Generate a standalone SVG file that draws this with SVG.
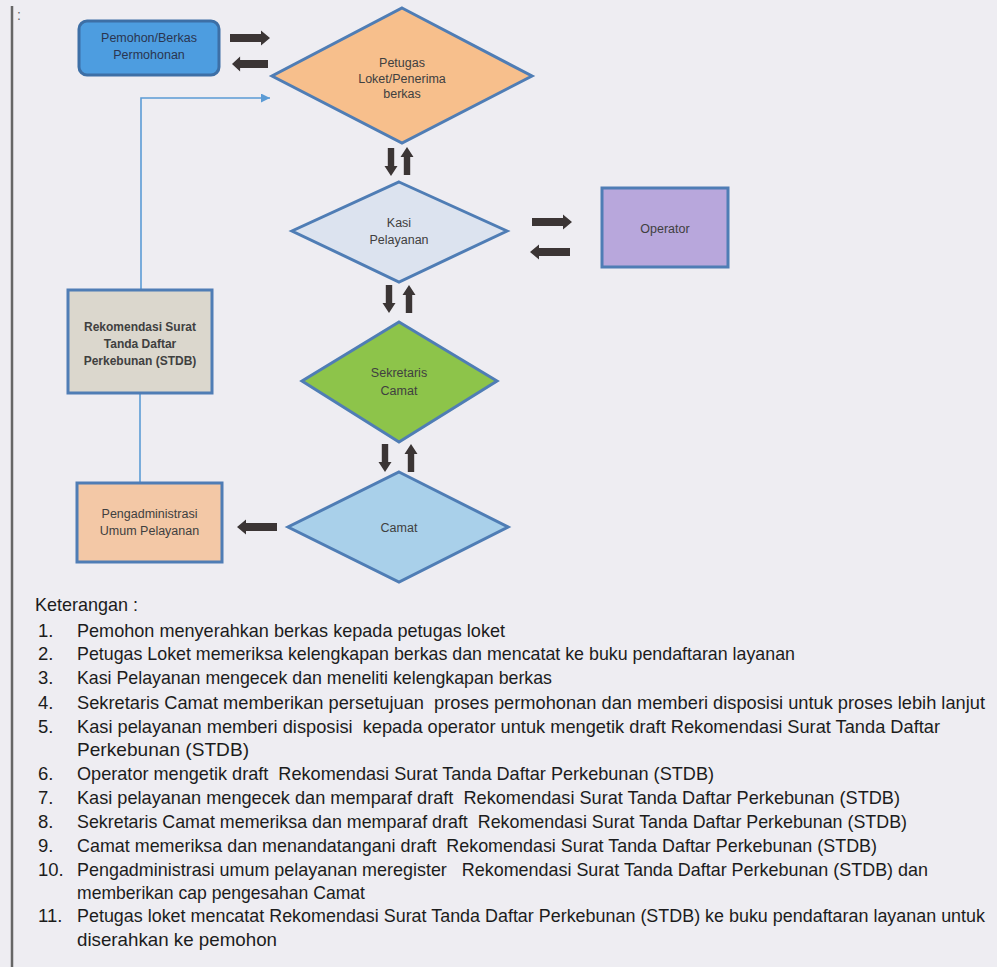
<svg xmlns="http://www.w3.org/2000/svg" xmlns:xlink="http://www.w3.org/1999/xlink" width="997" height="967" viewBox="0 0 997 967">
<style>
.lbl{font-family:"Liberation Sans",Arial,sans-serif;font-size:12.5px;fill:#404040;text-anchor:middle}
.bold{font-weight:bold;font-size:12px}
.lg{font-family:"Liberation Sans",Arial,sans-serif;font-size:18.5px;fill:#1c1c1c;white-space:pre}
.sm{font-size:17.5px}
.node{stroke:#4f7db5;stroke-width:3}
.blk{fill:#3b3535}
.conn{fill:none;stroke:#5b9bd5;stroke-width:1.6}
</style>
<defs>
<path id="ah" d="M0,-4H31V-7.5L40,0L31,7.5V4H0Z"/>
<path id="av" d="M-3.2,0V18H-6.5L0,28L6.5,18H3.2V0Z"/>
<marker id="mk" markerWidth="10" markerHeight="10" refX="9" refY="4.5" orient="auto" markerUnits="userSpaceOnUse"><path d="M0,0L9,4.5L0,9Z" fill="#5b9bd5"/></marker>
</defs>
<rect width="997" height="967" fill="#eeedf2"/>
<line x1="12" y1="6" x2="12" y2="967" stroke="#666" stroke-width="2.5"/>
<text x="17" y="20" style="font-family:'Liberation Sans',sans-serif;font-size:14px;fill:#666">:</text>

<g id="connectors">
<path class="conn" d="M141,290V98H270" marker-end="url(#mk)"/>
<path class="conn" d="M140,393V483"/>
<use class="blk" href="#ah" transform="translate(230,38)"/>
<use class="blk" href="#ah" transform="translate(268,64) rotate(180) scale(0.9,1)"/>
<use class="blk" href="#av" transform="translate(391,148)"/>
<use class="blk" href="#av" transform="translate(407,175) rotate(180)"/>
<use class="blk" href="#ah" transform="translate(532,222)"/>
<use class="blk" href="#ah" transform="translate(570,252) rotate(180)"/>
<use class="blk" href="#av" transform="translate(389,285)"/>
<use class="blk" href="#av" transform="translate(409,313) rotate(180)"/>
<use class="blk" href="#av" transform="translate(385,444)"/>
<use class="blk" href="#av" transform="translate(411,472) rotate(180)"/>
<use class="blk" href="#ah" transform="translate(277,527) rotate(180)"/>
</g>

<g id="pemohon">
<rect x="79" y="21" width="140" height="54" rx="8" fill="#4d9de0" stroke="#3d6fa6" stroke-width="3"/>
<text class="lbl" x="149" y="42" style="fill:#2a3550">Pemohon/Berkas</text>
<text class="lbl" x="149" y="59" style="fill:#2a3550">Permohonan</text>
</g>

<g id="petugas">
<polygon class="node" points="402,8 532,76 402,143 272,76" fill="#f7bf8c"/>
<text class="lbl" x="402" y="67">Petugas</text>
<text class="lbl" x="402" y="83">Loket/Penerima</text>
<text class="lbl" x="402" y="98">berkas</text>
</g>

<g id="kasi">
<polygon class="node" points="399,182 507,231 399,282 292,231" fill="#dce3ef"/>
<text class="lbl" x="399" y="227">Kasi</text>
<text class="lbl" x="399" y="244">Pelayanan</text>
</g>

<g id="operator">
<rect class="node" x="602" y="188" width="126" height="79" fill="#b8a7dc"/>
<text class="lbl" x="665" y="233">Operator</text>
</g>

<g id="sekretaris">
<polygon class="node" points="399,322 497,381 399,442 302,381" fill="#8dc44a"/>
<text class="lbl" x="399" y="377">Sekretaris</text>
<text class="lbl" x="399" y="395">Camat</text>
</g>

<g id="camat">
<polygon class="node" points="399,472 508,527 399,582 288,527" fill="#a9d0ea"/>
<text class="lbl" x="399" y="532">Camat</text>
</g>

<g id="rekomendasi">
<rect class="node" x="68" y="290" width="144" height="103" fill="#dbd7cd"/>
<text class="lbl bold" x="140" y="331">Rekomendasi Surat</text>
<text class="lbl bold" x="140" y="348">Tanda Daftar</text>
<text class="lbl bold" x="140" y="365">Perkebunan (STDB)</text>
</g>

<g id="pengadministrasi">
<rect class="node" x="77" y="483" width="145" height="79" fill="#f3c8a6"/>
<text class="lbl" x="149.5" y="518">Pengadministrasi</text>
<text class="lbl" x="149.5" y="535">Umum Pelayanan</text>
</g>

<g id="keterangan">
<text class="lg" x="35" y="611" textLength="103" lengthAdjust="spacingAndGlyphs">Keterangan :</text>
<text class="lg" x="38" y="637">1.</text>
<text class="lg" x="77" y="637" textLength="428" lengthAdjust="spacingAndGlyphs">Pemohon menyerahkan berkas kepada petugas loket</text>
<text class="lg" x="38" y="660">2.</text>
<text class="lg" x="77" y="660" textLength="718" lengthAdjust="spacingAndGlyphs">Petugas Loket memeriksa kelengkapan berkas dan mencatat ke buku pendaftaran layanan</text>
<text class="lg" x="38" y="684">3.</text>
<text class="lg" x="77" y="684" textLength="475" lengthAdjust="spacingAndGlyphs">Kasi Pelayanan mengecek dan meneliti kelengkapan berkas</text>
<text class="lg" x="38" y="709">4.</text>
<text class="lg sm" x="77" y="709" textLength="908" lengthAdjust="spacingAndGlyphs">Sekretaris Camat memberikan persetujuan  proses permohonan dan memberi disposisi untuk proses lebih lanjut</text>
<text class="lg" x="38" y="733">5.</text>
<text class="lg" x="77" y="733" textLength="863" lengthAdjust="spacingAndGlyphs">Kasi pelayanan memberi disposisi  kepada operator untuk mengetik draft Rekomendasi Surat Tanda Daftar</text>
<text class="lg" x="77" y="756" textLength="172" lengthAdjust="spacingAndGlyphs">Perkebunan (STDB)</text>
<text class="lg" x="38" y="780">6.</text>
<text class="lg" x="77" y="780" textLength="637" lengthAdjust="spacingAndGlyphs">Operator mengetik draft  Rekomendasi Surat Tanda Daftar Perkebunan (STDB)</text>
<text class="lg" x="38" y="804">7.</text>
<text class="lg" x="77" y="804" textLength="823" lengthAdjust="spacingAndGlyphs">Kasi pelayanan mengecek dan memparaf draft  Rekomendasi Surat Tanda Daftar Perkebunan (STDB)</text>
<text class="lg" x="38" y="828">8.</text>
<text class="lg" x="77" y="828" textLength="830" lengthAdjust="spacingAndGlyphs">Sekretaris Camat memeriksa dan memparaf draft  Rekomendasi Surat Tanda Daftar Perkebunan (STDB)</text>
<text class="lg" x="38" y="852">9.</text>
<text class="lg" x="77" y="852" textLength="800" lengthAdjust="spacingAndGlyphs">Camat memeriksa dan menandatangani draft  Rekomendasi Surat Tanda Daftar Perkebunan (STDB)</text>
<text class="lg" x="38" y="876">10.</text>
<text class="lg" x="77" y="876" textLength="851" lengthAdjust="spacingAndGlyphs">Pengadministrasi umum pelayanan meregister   Rekomendasi Surat Tanda Daftar Perkebunan (STDB) dan</text>
<text class="lg" x="77" y="899" textLength="288" lengthAdjust="spacingAndGlyphs">memberikan cap pengesahan Camat</text>
<text class="lg" x="38" y="922">11.</text>
<text class="lg sm" x="77" y="922" textLength="908" lengthAdjust="spacingAndGlyphs">Petugas loket mencatat Rekomendasi Surat Tanda Daftar Perkebunan (STDB) ke buku pendaftaran layanan untuk</text>
<text class="lg" x="77" y="946" textLength="200" lengthAdjust="spacingAndGlyphs">diserahkan ke pemohon</text>
</g>
</svg>
